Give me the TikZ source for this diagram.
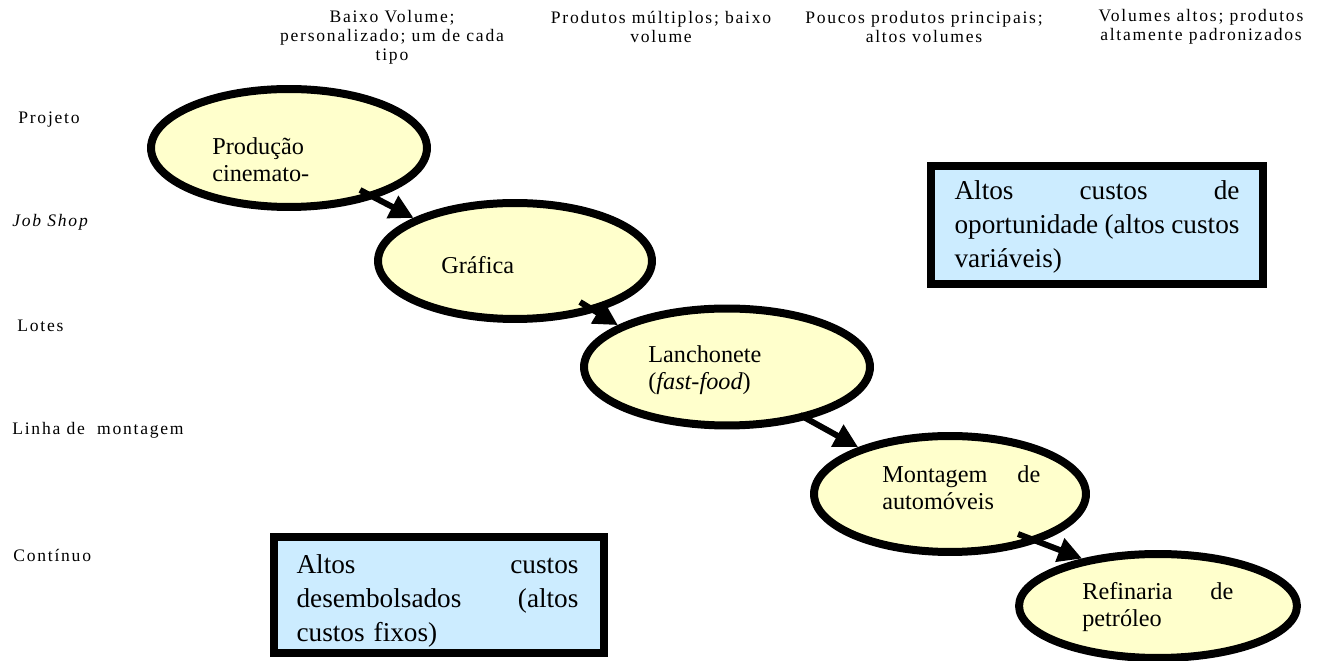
\documentclass[tikz,border=0pt]{standalone}
\usepackage{fontspec}
\setmainfont{Liberation Serif}
\newfontfamily\lblfont[LetterSpace=10]{Liberation Serif}
\usetikzlibrary{arrows.meta,shapes.geometric,calc}
\newlength\pxu \setlength\pxu{0.569pt}
\definecolor{ellfill}{HTML}{FFFFCC}
\definecolor{boxfill}{HTML}{CCECFF}
\begin{document}
\begin{tikzpicture}[x=0.02cm,y=-0.02cm,
  ell/.style={ellipse, draw=black, line width=4.55pt, fill=ellfill, inner sep=0pt},
  costbox/.style={rectangle, draw=black, line width=4.55pt, fill=boxfill, inner sep=0pt},
  etext/.style={anchor=west, align=left, inner sep=0pt, font=\fontsize{13.8}{15.4}\selectfont},
  btext/.style={align=left, inner sep=0pt, text width=285\pxu, font=\fontsize{15.5}{19.3}\selectfont},
  lbl/.style={anchor=west, inner sep=0pt, font=\lblfont\fontsize{10}{11}\selectfont},
  hdr/.style={align=center, inner sep=0pt, font=\lblfont\fontsize{10}{10.8}\selectfont},
  arr/.style={line width=3.4pt, -{Triangle[length=13.6pt,width=13.6pt]}}
]
\useasboundingbox[fill=white] (0,0) rectangle (1326,661);

% headers
\node[hdr] (h1) at (392,37) {Baixo Volume;\\personalizado; um de cada\\tipo};
\node[hdr] (h2) at (661,27) {Produtos múltiplos; baixo\\volume};
\node[hdr] (h3) at (924,27) {Poucos produtos principais;\\altos volumes};
\node[hdr] (h4) at (1201,27) {Volumes altos; produtos\\altamente padronizados};

% row labels
\node[lbl] (l1) at (18,120) {Projeto};
\node[lbl] (l2) at (12,222) {\itshape Job Shop};
\node[lbl] (l3) at (17,326) {Lotes};
\node[lbl] (l4) at (12,430) {Linha de\ \ montagem};
\node[lbl] (l5) at (13,555) {Contínuo};

% ellipses
\node[ell, minimum width=276\pxu, minimum height=118\pxu] (e1) at (289,148) {};
\node[ell, minimum width=274\pxu, minimum height=116\pxu] (e2) at (515,261) {};
\node[ell, minimum width=286\pxu, minimum height=117\pxu] (e3) at (727,367) {};
\node[ell, minimum width=272\pxu, minimum height=116\pxu] (e4) at (950,494) {};
\node[ell, minimum width=278\pxu, minimum height=104\pxu] (e5) at (1158,606) {};

\node[etext] (t1) at (212,160) {Produção\\cinemato-};
\node[etext] (t2) at (441,265) {Gráfica};
\node[etext] (t3) at (648,370) {Lanchonete\\(\textit{fast-food})};
\node[etext] (t4) at (882,488) {\makebox[158\pxu]{Montagem\hfill de}\\automóveis};
\node[etext] (t5) at (1082,607) {\makebox[151\pxu]{Refinaria\hfill de}\\petróleo};

% arrows
\draw[arr] ($(e1.center)+(71,42)$) -- (e2.157);
\draw[arr] ($(e2.center)+(65,41)$) -- (e3.159);
\draw[arr] ($(e3.center)+(73,48)$) -- (e4.153);
\draw[arr] ($(e4.center)+(68,40)$) -- (e5.148);

% cost boxes
\node[costbox, minimum width=332\pxu, minimum height=118\pxu] (b1) at (1097,225) {};
\node[btext] (bt1) at ($(b1.center)+(0,2)$) {\makebox[285\pxu]{Altos\hfill custos\hfill de}\\\makebox[285\pxu]{oportunidade\hfill(altos\hfill custos}\\variáveis)};
\node[costbox, minimum width=330\pxu, minimum height=116\pxu] (b2) at (439,595) {};
\node[btext] (bt2) at ($(b2.center)+(0,6)$) {\makebox[282\pxu]{Altos\hfill custos}\\\makebox[282\pxu]{desembolsados\hfill(altos}\\custos fixos)};
\end{tikzpicture}
\end{document}
